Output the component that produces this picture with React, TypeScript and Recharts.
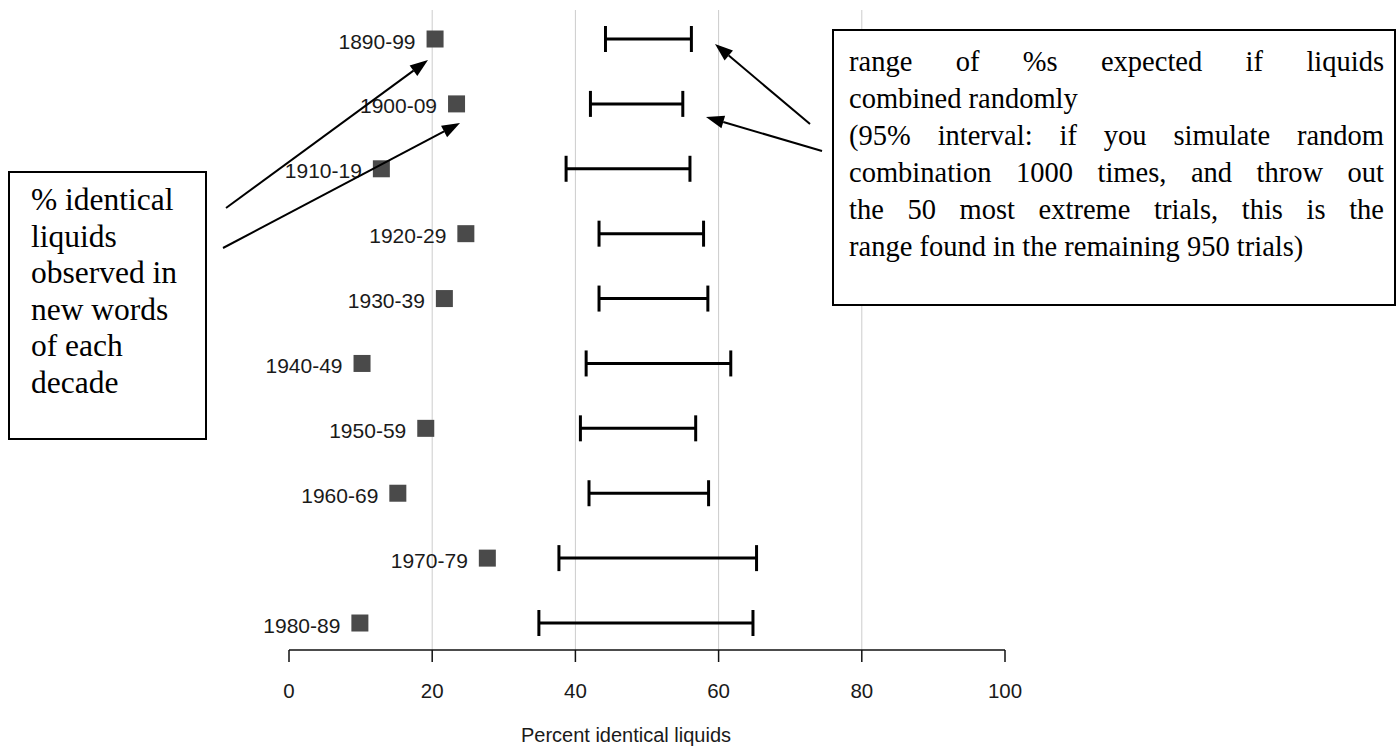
import React from 'react';
import { ComposedChart, Scatter, ErrorBar, XAxis, YAxis, CartesianGrid } from 'recharts';

// decades shown top to bottom
const decades = ['1890-99', '1900-09', '1910-19', '1920-29', '1930-39', '1940-49', '1950-59', '1960-69', '1970-79', '1980-89'];
// % identical liquids actually observed
const observed = [20.4, 23.4, 12.9, 24.7, 21.7, 10.2, 19.1, 15.2, 27.7, 9.9];
// 95% interval of random combination
const randomLow = [44.2, 42.1, 38.7, 43.3, 43.3, 41.5, 40.7, 41.9, 37.7, 34.9];
const randomHigh = [56.2, 55.0, 56.0, 57.9, 58.5, 61.7, 56.8, 58.6, 65.3, 64.8];
const xTicks = [0, 20, 40, 60, 80, 100];
const gridValues = [20, 40, 60, 80];

const leftNote = ['% identical', 'liquids', 'observed in', 'new words', 'of each', 'decade'];
const rightNote = [
  { text: 'range of %s expected if liquids', justify: true },
  { text: 'combined randomly', justify: false },
  { text: '(95% interval: if you simulate random', justify: true },
  { text: 'combination 1000 times, and throw out', justify: true },
  { text: 'the 50 most extreme trials, this is the', justify: true },
  { text: 'range found in the remaining 950 trials)', justify: false },
];

const SANS = "'Liberation Sans', Arial, sans-serif";
const SERIF = "'Liberation Serif', 'Times New Roman', serif";

const observedPoints = decades.map((decade, i) => ({ decade, x: observed[i], row: i }));
const intervalPoints = decades.map((decade, i) => ({
  decade,
  x: (randomLow[i] + randomHigh[i]) / 2,
  row: i,
  err: (randomHigh[i] - randomLow[i]) / 2,
}));

let ctx: CanvasRenderingContext2D | null = null;
const measure = (s: string, font: string) => {
  if (!ctx) ctx = document.createElement('canvas').getContext('2d');
  if (!ctx) return s.length * 10;
  ctx.font = font;
  return ctx.measureText(s).width;
};

const JustifiedLine = ({ text, x, y, width, size, justify }: any) => {
  if (!justify) {
    return (
      <text x={x} y={y} fontSize={size} fontFamily={SERIF} fill="#000">
        {text}
      </text>
    );
  }
  const words = text.split(' ');
  const font = `${size}px ${SERIF}`;
  const widths = words.map((w: string) => measure(w, font));
  const total = widths.reduce((a: number, b: number) => a + b, 0);
  const gap = (width - total) / (words.length - 1);
  let cur = x;
  return (
    <text y={y} fontSize={size} fontFamily={SERIF} fill="#000">
      {words.map((w: string, i: number) => {
        const el = (
          <tspan key={i} x={cur}>
            {w}
          </tspan>
        );
        cur += widths[i] + gap;
        return el;
      })}
    </text>
  );
};

const Arrow = ({ x1, y1, x2, y2 }: any) => {
  const len = Math.hypot(x2 - x1, y2 - y1);
  const ux = (x2 - x1) / len;
  const uy = (y2 - y1) / len;
  const head = 18;
  const half = 6.5;
  const bx = x2 - ux * head;
  const by = y2 - uy * head;
  const pts = `${x2},${y2} ${bx - uy * half},${by + ux * half} ${bx + uy * half},${by - ux * half}`;
  return (
    <g>
      <line x1={x1} y1={y1} x2={bx} y2={by} stroke="#000" strokeWidth={2} />
      <polygon points={pts} fill="#000" />
    </g>
  );
};

const SquareMark = (props: any) => {
  const { cx, cy, payload } = props;
  return (
    <g>
      <text x={cx - 19.5} y={cy + 9.5} textAnchor="end" fontSize={21} fontFamily={SANS} fill="#1a1a1a">
        {payload.decade}
      </text>
      <rect x={cx - 8.5} y={cy - 8.5} width={17} height={17} fill="#4a4a4a" />
    </g>
  );
};

const NoMark = () => <g />;

export default function App() {
  return (
    <div style={{ position: 'absolute', left: 0, top: 0, width: 1398, height: 747, background: '#fff' }}>
      <ComposedChart width={1398} height={747} margin={{ top: 10, right: 393, bottom: 0, left: 289 }}>
        <CartesianGrid horizontal={false} verticalValues={gridValues} stroke="#cccccc" strokeWidth={1} />
        <XAxis
          type="number"
          dataKey="x"
          domain={[0, 100]}
          ticks={xTicks}
          height={97}
          tickSize={12}
          tickMargin={21}
          axisLine={{ stroke: '#111', strokeWidth: 1.5 }}
          tickLine={{ stroke: '#111', strokeWidth: 1.5 }}
          tick={{ fontSize: 20.5, fill: '#1a1a1a', fontFamily: SANS }}
        />
        <YAxis type="number" dataKey="row" hide reversed domain={[-0.447, 9.416]} />
        <Scatter data={intervalPoints} shape={NoMark} isAnimationActive={false}>
          <ErrorBar dataKey="err" direction="x" width={13} stroke="#000" strokeWidth={3} isAnimationActive={false} />
        </Scatter>
        <Scatter data={observedPoints} shape={SquareMark} isAnimationActive={false} />
      </ComposedChart>
      <svg width={1398} height={747} style={{ position: 'absolute', left: 0, top: 0, pointerEvents: 'none' }}>
        <text x={626} y={742} textAnchor="middle" fontSize={20} fontFamily={SANS} fill="#1a1a1a">
          Percent identical liquids
        </text>
        <rect x={833} y={30} width={562} height={275} fill="#fff" stroke="#000" strokeWidth={2} />
        {rightNote.map((l, i) => (
          <JustifiedLine key={i} text={l.text} x={849} y={71 + i * 37} width={535} size={28.5} justify={l.justify} />
        ))}
        <rect x={9} y={172} width={197} height={267} fill="#fff" stroke="#000" strokeWidth={2} />
        {leftNote.map((t, i) => (
          <text key={i} x={31} y={210 + i * 36.5} fontSize={31.5} fontFamily={SERIF} fill="#000">
            {t}
          </text>
        ))}
        <Arrow x1={226} y1={208} x2={428} y2={60} />
        <Arrow x1={223} y1={248} x2={460} y2={123} />
        <Arrow x1={810} y1={124} x2={715} y2={44} />
        <Arrow x1={822} y1={151} x2={706} y2={117} />
      </svg>
    </div>
  );
}
